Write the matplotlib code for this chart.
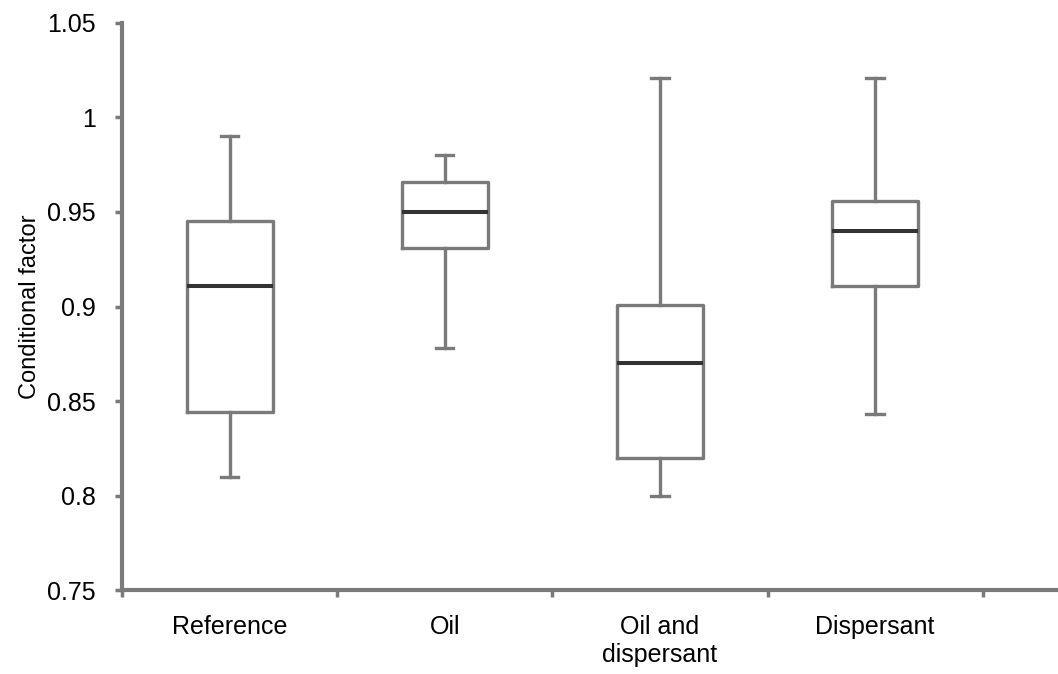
import matplotlib.pyplot as plt

plt.rcParams["font.family"] = ["Liberation Sans", "DejaVu Sans"]

# data (box plot statistics)
categories = ["Reference", "Oil", "Oil and\ndispersant", "Dispersant"]
whisker_low = [0.810, 0.878, 0.800, 0.843]
q1 = [0.844, 0.931, 0.820, 0.911]
median = [0.911, 0.950, 0.870, 0.940]
q3 = [0.945, 0.966, 0.901, 0.956]
whisker_high = [0.990, 0.980, 1.021, 1.021]
y_ticks = [0.75, 0.8, 0.85, 0.9, 0.95, 1.0, 1.05]
y_tick_labels = ["0.75", "0.8", "0.85", "0.9", "0.95", "1", "1.05"]

GRAY = "#7a7a7a"
DARK = "#333333"

stats = []
for i, name in enumerate(categories):
    stats.append(
        {
            "label": name,
            "whislo": whisker_low[i],
            "q1": q1[i],
            "med": median[i],
            "q3": q3[i],
            "whishi": whisker_high[i],
            "fliers": [],
        }
    )

fig = plt.figure(figsize=(10.58, 6.74), dpi=100)
ax = fig.add_axes([0.1153, 0.1246, 0.8847, 0.8413])

positions = list(range(len(categories)))
ax.bxp(
    stats,
    positions=positions,
    widths=0.40,
    capwidths=0.08,
    showfliers=False,
    boxprops=dict(color=GRAY, linewidth=2.4),
    whiskerprops=dict(color=GRAY, linewidth=2.4),
    capprops=dict(color=GRAY, linewidth=2.4),
    medianprops=dict(color=DARK, linewidth=2.9, solid_capstyle="butt"),
)

ax.set_xlim(-0.5, 3.85)
ax.set_ylim(0.75, 1.05)

# category labels between the boundary ticks
ax.set_xticks([p - 0.5 for p in positions] + [3.5])
ax.set_xticklabels([])
ax.set_xticks(positions, minor=True)
ax.set_xticklabels(categories, minor=True, fontsize=18, linespacing=1.2)
ax.tick_params(axis="x", which="minor", length=0, pad=18)
ax.tick_params(axis="x", which="major", length=5, width=2.5, color=GRAY,
               direction="out")

ax.set_yticks(y_ticks)
ax.set_yticklabels(y_tick_labels, fontsize=18)
ax.tick_params(axis="y", length=5, width=2.5, color=GRAY, pad=14)

for side in ["top", "right"]:
    ax.spines[side].set_visible(False)
for side in ["left", "bottom"]:
    ax.spines[side].set_color(GRAY)
    ax.spines[side].set_linewidth(3)

ax.set_ylabel("Conditional factor", fontsize=17, labelpad=4)

fig.savefig("out.png", dpi=100)
